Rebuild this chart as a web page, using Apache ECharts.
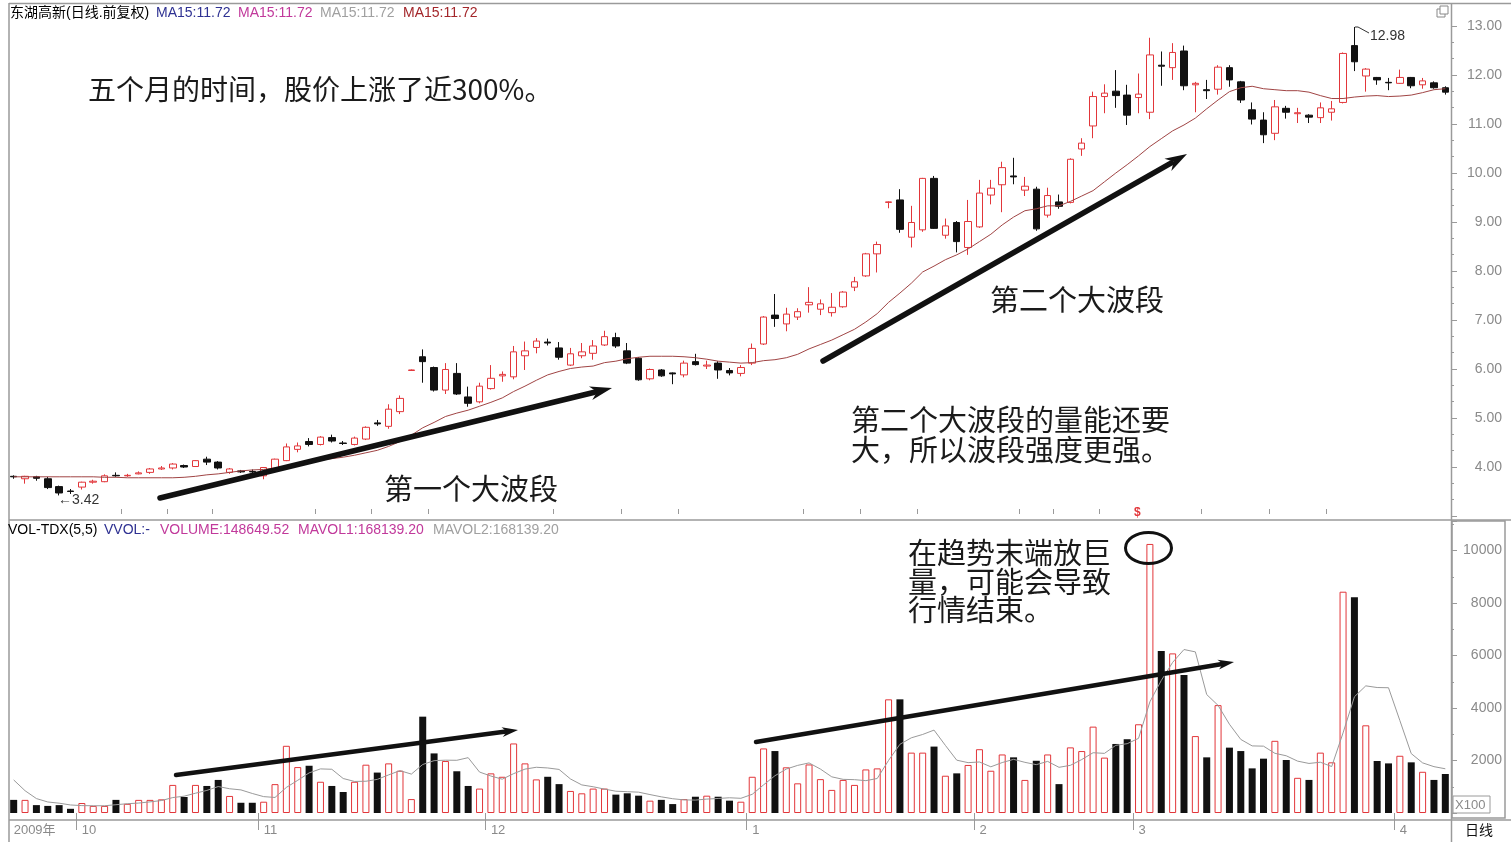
<!DOCTYPE html>
<html><head><meta charset="utf-8">
<script src="https://cdn.jsdelivr.net/npm/echarts@6/dist/echarts.min.js"></script>
<style>html,body{margin:0;padding:0;background:#fff}#c{width:1511px;height:847px}</style>
</head><body><div id="c"></div>
<script>
// ---- data ----
const monthSegments = [['2009年',6],['10',16],['11',20],['12',23],['1',20],['2',14],['3',23],['4',5]];
const minorTickIdx = [10,14,18,27,32,37,48,54,59,70,75,80,89,92,96,105,111,116];
const priceTicks = [4,5,6,7,8,9,10,11,12,13];
const volumeTicks = [2000,4000,6000,8000,10000];
const opens = [3.81,3.76,3.80,3.76,3.60,3.51,3.59,3.69,3.70,3.83,
 3.82,3.86,3.89,3.96,3.98,4.03,4.01,4.16,4.10,3.89,
 3.92,3.91,3.82,3.97,4.13,4.36,4.52,4.46,4.60,4.49,
 4.46,4.57,4.90,4.83,5.13,5.97,6.25,6.03,5.57,5.91,
 5.43,5.33,5.60,5.86,5.84,6.27,6.44,6.55,6.43,6.08,
 6.27,6.32,6.49,6.64,6.37,6.22,5.80,5.98,5.92,5.88,
 6.15,6.06,6.12,5.97,5.91,6.12,6.51,7.10,6.92,7.06,
 7.31,7.22,7.15,7.27,7.67,7.90,8.35,9.40,9.45,8.69,
 8.84,9.89,8.73,8.99,8.48,8.90,9.55,9.76,9.94,9.65,
 9.67,9.14,9.41,9.40,10.49,10.96,11.56,11.67,11.59,11.54,
 11.24,12.20,12.15,12.49,11.80,11.70,11.71,12.15,11.86,11.29,
 11.08,10.81,11.32,11.21,11.18,11.13,11.24,11.44,12.60,11.98,
 11.95,11.85,11.83,11.95,11.80,11.84,11.74];
const closes = [3.80,3.81,3.77,3.58,3.47,3.50,3.69,3.71,3.82,3.82,
 3.83,3.88,3.96,3.98,4.06,4.00,4.13,4.10,3.98,3.96,
 3.90,3.90,3.99,4.16,4.41,4.43,4.46,4.61,4.53,4.48,
 4.59,4.81,4.88,5.18,5.40,5.98,6.15,5.57,5.99,5.49,
 5.30,5.65,5.81,5.89,6.35,6.37,6.57,6.53,6.24,6.31,
 6.35,6.47,6.66,6.47,6.12,5.78,5.99,5.86,5.90,6.12,
 6.09,6.08,5.98,5.92,6.03,6.42,7.06,7.03,7.12,7.17,
 7.36,7.33,7.26,7.57,7.78,8.35,8.54,9.41,8.85,8.99,
 9.89,8.87,8.92,8.60,9.01,9.59,9.69,10.11,9.92,9.73,
 8.86,9.54,9.32,10.28,10.61,11.56,11.63,11.58,11.18,11.61,
 12.41,12.18,12.46,11.78,11.83,11.68,12.16,11.90,11.49,11.10,
 10.78,11.35,11.24,11.23,11.14,11.33,11.31,12.44,12.27,12.12,
 11.90,11.84,11.95,11.78,11.88,11.74,11.65];
const lows = [3.76,3.66,3.72,3.55,3.42,3.45,3.54,3.66,3.69,3.80,
 3.80,3.85,3.86,3.94,3.95,3.98,4.00,4.04,3.95,3.86,
 3.88,3.87,3.75,3.96,4.12,4.30,4.42,4.44,4.50,4.45,
 4.44,4.55,4.84,4.78,5.08,5.97,5.72,5.54,5.49,5.47,
 5.23,5.30,5.58,5.74,5.79,5.98,6.32,6.48,6.19,6.06,
 6.22,6.19,6.47,6.43,6.10,5.76,5.77,5.84,5.69,5.83,
 6.07,6.00,5.80,5.87,5.85,6.08,6.49,6.86,6.77,7.00,
 7.15,7.10,7.07,7.25,7.59,7.88,7.97,9.28,8.78,8.48,
 8.80,8.86,8.66,8.38,8.33,8.88,9.36,9.20,9.77,9.53,
 8.82,9.09,9.27,9.38,10.35,10.71,11.22,11.33,10.98,11.22,
 11.10,11.78,11.90,11.69,11.24,11.51,11.60,11.76,11.43,10.99,
 10.61,10.67,11.11,11.02,11.02,11.02,11.07,11.42,12.08,11.66,
 11.80,11.69,11.82,11.73,11.72,11.72,11.60];
const highs = [3.83,3.82,3.82,3.80,3.62,3.55,3.70,3.74,3.85,3.89,
 3.86,3.91,3.98,4.02,4.08,4.05,4.14,4.21,4.12,3.98,
 3.94,3.95,4.00,4.17,4.48,4.50,4.59,4.63,4.66,4.53,
 4.62,4.83,4.96,5.28,5.46,5.99,6.40,6.05,6.12,6.12,
 5.64,5.72,6.08,5.95,6.47,6.56,6.63,6.62,6.55,6.43,
 6.53,6.59,6.78,6.74,6.53,6.24,6.01,6.00,5.93,6.17,
 6.31,6.17,6.16,6.02,6.08,6.52,7.08,7.53,7.25,7.24,
 7.67,7.42,7.55,7.59,7.88,8.37,8.60,9.42,9.67,9.33,
 9.90,9.94,9.07,9.02,9.45,9.86,9.86,10.23,10.31,9.92,
 9.72,9.70,9.56,10.30,10.71,11.66,11.81,12.10,11.80,12.03,
 12.76,12.48,12.65,12.60,11.86,11.90,12.20,12.20,11.88,11.44,
 11.24,11.49,11.37,11.33,11.20,11.44,11.47,12.46,12.98,12.14,
 11.96,11.94,12.11,11.96,11.94,11.87,11.77];
const ma15 = [3.80,3.80,3.80,3.80,3.80,3.80,3.80,3.80,3.79,3.79,
 3.78,3.78,3.78,3.78,3.78,3.79,3.81,3.84,3.86,3.89,
 3.92,3.94,3.95,3.98,4.02,4.06,4.09,4.14,4.17,4.20,
 4.24,4.29,4.34,4.42,4.52,4.65,4.80,4.91,5.03,5.10,
 5.16,5.24,5.32,5.41,5.54,5.65,5.77,5.88,5.95,6.01,
 6.04,6.06,6.13,6.16,6.21,6.24,6.26,6.26,6.26,6.25,
 6.23,6.20,6.16,6.14,6.12,6.13,6.17,6.19,6.23,6.30,
 6.41,6.50,6.59,6.70,6.81,6.96,7.13,7.36,7.55,7.75,
 7.98,8.10,8.23,8.33,8.45,8.60,8.75,8.94,9.10,9.23,
 9.27,9.33,9.33,9.42,9.53,9.64,9.82,10.00,10.17,10.35,
 10.54,10.70,10.86,10.98,11.12,11.31,11.49,11.66,11.74,11.77,
 11.72,11.70,11.68,11.68,11.65,11.58,11.52,11.52,11.55,11.57,
 11.58,11.56,11.57,11.59,11.64,11.70,11.72];
const volumes = [500,500,300,270,300,160,380,270,270,500,
 350,500,500,520,1070,610,1070,1030,1260,650,
 390,390,430,1100,2560,1750,1800,1190,1030,800,
 1190,1840,1540,1890,1610,530,3670,2270,1980,1590,
 1030,930,1510,1380,2650,1890,1280,1380,1100,840,
 750,930,930,700,750,660,470,500,340,530,
 620,660,620,470,430,1380,2460,2360,1740,1130,
 1850,1290,880,1260,1070,1660,1700,4330,4330,2300,
 2300,2530,1420,1510,1830,2430,1610,2230,2120,1260,
 1990,2230,1100,2500,2360,3290,2110,2630,2810,3380,
 10250,6170,6080,5260,2930,2120,4110,2490,2360,1700,
 2070,2750,2020,1340,1260,2300,1930,8430,8220,3340,
 1980,1890,2180,1930,1570,1260,1486];
const mavol5 = [1260,850,550,420,374,306,282,276,276,316,
 354,378,424,474,588,640,754,860,1008,924,
 880,744,624,592,974,1246,1528,1680,1666,1314,
 1202,1210,1280,1452,1614,1482,1848,1994,2012,2008,
 2108,1560,1408,1288,1500,1672,1742,1716,1660,1298,
 1070,1000,910,830,812,794,702,616,544,500,
 492,530,554,580,560,712,1072,1420,1674,1814,
 1908,1674,1378,1282,1270,1232,1314,2004,2618,2864,
 2992,3158,2576,2012,1918,1944,1760,1922,2044,1930,
 1842,1966,1740,1816,2036,2296,2272,2578,2640,2844,
 4236,5048,5738,6228,6138,4512,4100,3382,2802,2556,
 2546,2274,2180,1976,1888,1934,1770,3052,4428,4844,
 4780,4772,3522,2264,1910,1766,1685];

// ---- build ----
const categories = [];
monthSegments.forEach(([m, n]) => { for (let k = 1; k <= n; k++) categories.push(m + '-' + k); });
const isMonthStart = v => String(v).split('-')[1] === '1';
const RED = '#e2363a', BLK = '#111', GRAY = '#9a9a9a', LBL = '#8a8a8a';
const FONT = "'Liberation Sans', Arial, 'Noto Sans CJK SC', sans-serif";
const CJK = "'Noto Sans CJK SC', sans-serif";

const kData = opens.map((o, i) => [o, closes[i], lows[i], highs[i]]);
const volData = volumes.map((v, i) => ({
  value: v,
  itemStyle: closes[i] >= opens[i] ? { color: '#fff', borderColor: RED, borderWidth: 1 } : { color: BLK }
}));

function txt(x, y, text, fill, font, extra) {
  return Object.assign({ type: 'text', x, y, z: 100, silent: true,
    style: { text, fill, font, verticalAlign: 'middle', textVerticalAlign: 'middle', align: 'left', textAlign: 'left' } }, extra || {});
}
function ln(x1, y1, x2, y2, stroke, w) {
  return { type: 'line', z: 100, silent: true, shape: { x1, y1, x2, y2 }, style: { stroke, lineWidth: w } };
}
function arrow(x1, y1, x2, y2, w, hl, hw) {
  const dx = x2 - x1, dy = y2 - y1, L = Math.hypot(dx, dy), ux = dx / L, uy = dy / L, px = -uy, py = ux;
  const bx = x2 - ux * hl, by = y2 - uy * hl;
  return [
    { type: 'line', z: 100, silent: true, shape: { x1, y1, x2: bx + ux * 4, y2: by + uy * 4 }, style: { stroke: BLK, lineWidth: w, lineCap: 'round' } },
    { type: 'polygon', z: 100, silent: true, shape: { points: [[x2, y2], [bx + px * hw / 2, by + py * hw / 2], [bx + ux * hl * 0.3, by + uy * hl * 0.3], [bx - px * hw / 2, by - py * hw / 2]] }, style: { fill: BLK } }
  ];
}

const elements = [
  // frame
  ln(9, 3.5, 1511, 3.5, GRAY, 1.5),
  ln(9, 3, 9, 842, GRAY, 1.5),
  ln(9, 520, 1511, 520, GRAY, 1.5),
  ln(9, 820, 1511, 820, GRAY, 1.5),
  ln(1451.5, 3, 1451.5, 842, GRAY, 1.5),
  { type: 'rect', z: 100, silent: true, shape: { x: 1452, y: 521, width: 53, height: 297 }, style: { fill: 'none', stroke: GRAY, lineWidth: 1.5 } },
  { type: 'rect', z: 100, silent: true, shape: { x: 1453, y: 796, width: 37, height: 17 }, style: { fill: '#fff', stroke: GRAY, lineWidth: 1 } },
  txt(1455, 805, 'X100', LBL, '13px ' + FONT),
  { type: 'rect', z: 100, silent: true, shape: { x: 1437, y: 9, width: 8, height: 8 }, style: { fill: 'none', stroke: '#888', lineWidth: 1 } },
  { type: 'rect', z: 100, silent: true, shape: { x: 1440, y: 6, width: 8, height: 8 }, style: { fill: '#fff', stroke: '#888', lineWidth: 1 } },
  txt(1465, 830, '日线', '#111', '14px ' + CJK),
  // headers
  txt(10, 13, '东湖高新(日线.前复权)', '#000', '14px ' + FONT),
  txt(156, 13, 'MA15:11.72', '#2e3192', '14px ' + FONT),
  txt(238, 13, 'MA15:11.72', '#c1399b', '14px ' + FONT),
  txt(320, 13, 'MA15:11.72', '#a0a0a0', '14px ' + FONT),
  txt(403, 13, 'MA15:11.72', '#a3262a', '14px ' + FONT),
  txt(8, 530, 'VOL-TDX(5,5)', '#000', '14px ' + FONT),
  txt(104, 530, 'VVOL:-', '#2e3192', '14px ' + FONT),
  txt(160, 530, 'VOLUME:148649.52', '#c1399b', '14px ' + FONT),
  txt(298, 530, 'MAVOL1:168139.20', '#c1399b', '14px ' + FONT),
  txt(433, 530, 'MAVOL2:168139.20', '#a0a0a0', '14px ' + FONT),
  // extreme labels
  txt(58, 500, '←3.42', '#333', '14px ' + FONT),
  { type: 'polyline', z: 100, silent: true, shape: { points: [[1355, 27], [1358, 27], [1369, 33]] }, style: { stroke: '#333', lineWidth: 1, fill: 'none' } },
  txt(1370, 36, '12.98', '#333', '14px ' + FONT),
  txt(1134, 513, '$', RED, 'bold 12px ' + FONT),
  // annotations
  txt(88, 89, '五个月的时间，股价上涨了近300%。', '#1a1a1a', '28px ' + CJK),
  txt(384, 489, '第一个大波段', '#1a1a1a', '29px ' + CJK),
  txt(990, 300, '第二个大波段', '#1a1a1a', '29px ' + CJK),
  txt(851, 420, '第二个大波段的量能还要', '#1a1a1a', '29px ' + CJK),
  txt(851, 450, '大，所以波段强度更强。', '#1a1a1a', '29px ' + CJK),
  txt(908, 553, '在趋势末端放巨', '#1a1a1a', '29px ' + CJK),
  txt(908, 582, '量，可能会导致', '#1a1a1a', '29px ' + CJK),
  txt(908, 610, '行情结束。', '#1a1a1a', '29px ' + CJK),
  { type: 'ellipse', z: 100, silent: true, shape: { cx: 1148.5, cy: 548, rx: 23, ry: 15.5 }, style: { fill: 'none', stroke: BLK, lineWidth: 3 } },
  ...arrow(160, 498, 612, 388, 5.5, 22, 14),
  ...arrow(823, 361, 1187, 154, 5.5, 22, 14),
  ...arrow(176, 775, 518, 730, 4.5, 16, 10),
  ...arrow(756, 742, 1234, 662, 4.5, 16, 10)
];

const option = {
  animation: false,
  backgroundColor: '#fff',
  grid: [
    { left: 8, top: 26, width: 1443, height: 490 },
    { left: 8, top: 521, width: 1443, height: 292 }
  ],
  xAxis: [
    { type: 'category', gridIndex: 0, data: categories, axisLine: { show: false }, axisTick: { show: false }, axisLabel: { show: false }, splitLine: { show: false } },
    { type: 'category', gridIndex: 1, data: categories, offset: 7, axisLine: { show: false },
      axisTick: { show: true, interval: (i, v) => i > 0 && isMonthStart(categories[i] || v), length: 17, lineStyle: { color: GRAY } },
      axisLabel: { show: true, interval: (i, v) => isMonthStart(v), formatter: v => String(v).split('-')[0], align: 'left', margin: 4, color: LBL, fontSize: 13, fontFamily: FONT },
      splitLine: { show: false } },
    { type: 'category', gridIndex: 1, data: categories, offset: 7, axisLine: { show: false },
      axisTick: { show: true, interval: (i) => minorTickIdx.includes(i), length: 5, lineStyle: { color: GRAY } },
      axisLabel: { show: false }, splitLine: { show: false } }
  ],
  yAxis: [
    { type: 'value', gridIndex: 0, position: 'right', min: 3, max: 13, interval: 1,
      splitLine: { show: false }, axisLine: { show: false },
      axisTick: { show: true, length: 6, lineStyle: { color: GRAY } },
      minorTick: { show: true, splitNumber: 3, length: 3, lineStyle: { color: GRAY } },
      axisLabel: { formatter: v => priceTicks.includes(Math.round(v)) && v >= 4 ? v.toFixed(2) : '', align: 'right', margin: 51, color: LBL, fontSize: 14, fontFamily: FONT } },
    { type: 'value', gridIndex: 1, position: 'right', min: 0, max: 11124, interval: 2000,
      splitLine: { show: false }, axisLine: { show: false },
      axisTick: { show: true, length: 6, lineStyle: { color: GRAY } },
      minorTick: { show: true, splitNumber: 2, length: 3, lineStyle: { color: GRAY } },
      axisLabel: { showMaxLabel: false, formatter: v => volumeTicks.includes(v) ? String(v) : '', align: 'right', margin: 51, color: LBL, fontSize: 14, fontFamily: FONT } }
  ],
  series: [
    { type: 'candlestick', xAxisIndex: 0, yAxisIndex: 0, data: kData, barWidth: 7,
      itemStyle: { color: '#fff', color0: BLK, borderColor: RED, borderColor0: BLK, borderWidth: 1 } },
    { type: 'line', xAxisIndex: 0, yAxisIndex: 0, data: ma15, symbol: 'none', smooth: false,
      lineStyle: { color: '#a04444', width: 1 }, z: 3 },
    { type: 'bar', xAxisIndex: 1, yAxisIndex: 1, data: volData, barWidth: 7 },
    { type: 'line', xAxisIndex: 1, yAxisIndex: 1, data: mavol5, symbol: 'none',
      lineStyle: { color: '#9a9a9a', width: 1 }, z: 3 }
  ],
  graphic: { elements }
};
const chart = echarts.init(document.getElementById('c'), null, { renderer: 'canvas' });
chart.setOption(option);
</script>
</body></html>
